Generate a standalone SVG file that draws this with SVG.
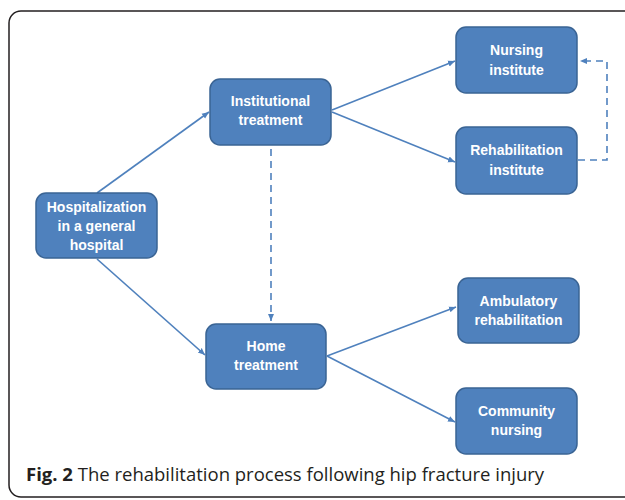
<svg xmlns="http://www.w3.org/2000/svg" width="625" height="500" viewBox="0 0 625 500">
<defs>
<style>
.box{fill:#4F81BD;stroke:#3A6494;stroke-width:1.5}
.lbl{font-family:"Liberation Sans",Arial,sans-serif;font-weight:bold;font-size:14px;fill:#FFFFFF;text-anchor:middle}
.conn{stroke:#4F81BD;stroke-width:1.6;fill:none}
.dash{stroke-dasharray:7,5}
.cap{font-family:"Open Sans","Liberation Sans",sans-serif;font-size:18.5px;fill:#231F20}
</style>
<marker id="arr" markerWidth="8" markerHeight="8" refX="7" refY="4" orient="auto" markerUnits="userSpaceOnUse">
<path d="M0,1 L7,4 L0,7 Z" fill="#4F81BD"/>
</marker>
</defs>
<rect x="0" y="0" width="625" height="500" fill="#FFFFFF"/>
<rect x="9" y="11" width="640" height="486" rx="12" ry="12" fill="none" stroke="#231F20" stroke-width="1.5"/>
<g id="connectors">
<line class="conn" x1="97" y1="193" x2="209" y2="112" marker-end="url(#arr)"/>
<line class="conn" x1="97" y1="259" x2="205" y2="355" marker-end="url(#arr)"/>
<line class="conn" x1="332" y1="110" x2="455" y2="61" marker-end="url(#arr)"/>
<line class="conn" x1="332" y1="112" x2="455" y2="162" marker-end="url(#arr)"/>
<line class="conn dash" x1="271" y1="149" x2="271" y2="321" marker-end="url(#arr)"/>
<polyline class="conn dash" points="578,160 607,160 607,61 580,61" marker-end="url(#arr)"/>
<line class="conn" x1="327" y1="356" x2="456" y2="307" marker-end="url(#arr)"/>
<line class="conn" x1="327" y1="356" x2="455" y2="422" marker-end="url(#arr)"/>
</g>
<g id="hospitalization">
<rect class="box" x="36" y="193" width="121" height="65" rx="10"/>
<text class="lbl" x="96.5" y="212">Hospitalization</text>
<text class="lbl" x="96.5" y="231">in a general</text>
<text class="lbl" x="96.5" y="250">hospital</text>
</g>
<g id="institutional">
<rect class="box" x="210" y="79" width="121" height="66" rx="10"/>
<text class="lbl" x="270.5" y="106">Institutional</text>
<text class="lbl" x="270.5" y="125">treatment</text>
</g>
<g id="home">
<rect class="box" x="206" y="324" width="120" height="65" rx="10"/>
<text class="lbl" x="266" y="351">Home</text>
<text class="lbl" x="266" y="370">treatment</text>
</g>
<g id="nursing-institute">
<rect class="box" x="456" y="27" width="121" height="66" rx="10"/>
<text class="lbl" x="516.5" y="55">Nursing</text>
<text class="lbl" x="516.5" y="75">institute</text>
</g>
<g id="rehabilitation-institute">
<rect class="box" x="456" y="127" width="121" height="67" rx="10"/>
<text class="lbl" x="516.5" y="155">Rehabilitation</text>
<text class="lbl" x="516.5" y="175">institute</text>
</g>
<g id="ambulatory">
<rect class="box" x="458" y="278" width="121" height="65" rx="10"/>
<text class="lbl" x="518.5" y="306">Ambulatory</text>
<text class="lbl" x="518.5" y="325">rehabilitation</text>
</g>
<g id="community">
<rect class="box" x="456" y="388" width="121" height="66" rx="10"/>
<text class="lbl" x="516.5" y="416">Community</text>
<text class="lbl" x="516.5" y="435">nursing</text>
</g>
<text class="cap" x="26" y="481"><tspan font-weight="bold">Fig. 2</tspan> The rehabilitation process following hip fracture injury</text>
</svg>
